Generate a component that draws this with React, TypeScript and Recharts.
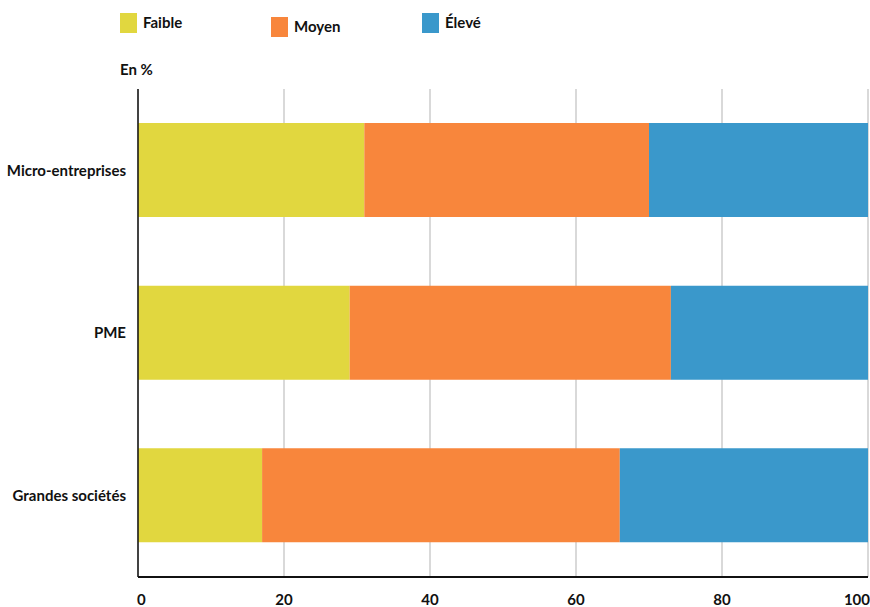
import React from "react";
import { BarChart, Bar, XAxis, YAxis, CartesianGrid } from "recharts";

const categories = ["Micro-entreprises", "PME", "Grandes sociétés"];
const faible = [31, 29, 17];
const moyen = [39, 44, 49];
const eleve = [30, 27, 34];
const xTicks = [0, 20, 40, 60, 80, 100];

const seriesNames = ["Faible", "Moyen", "Élevé"];
const colors = ["#e1d73f", "#f8863c", "#3a98cb"];

const data = categories.map((c, i) => ({
  name: c,
  Faible: faible[i],
  Moyen: moyen[i],
  "Élevé": eleve[i],
}));

const FONT = "Lato, 'Open Sans', sans-serif";

const XTick = (props: any) => {
  const { x, y, payload } = props;
  const v = payload.value;
  let anchor: "start" | "middle" | "end" = "middle";
  let dx = 0;
  if (v === 0) { anchor = "start"; dx = -1; }
  if (v === 100) { anchor = "end"; dx = 2; }
  return (
    <text x={x + dx} y={y} dy={26} textAnchor={anchor} fill="#111" fontSize={15} fontWeight={700} fontFamily={FONT}>
      {v}
    </text>
  );
};

const legendPos = [
  { x: 120, y: 13 },
  { x: 271, y: 17 },
  { x: 422, y: 13 },
];

export default function App() {
  return (
    <div style={{ position: "absolute", left: 0, top: 0, width: 870, height: 607, background: "#fff" }}>
      {seriesNames.map((n, i) => (
        <div key={n} style={{ position: "absolute", left: legendPos[i].x, top: legendPos[i].y, display: "flex", alignItems: "center", fontFamily: FONT, fontWeight: 700, fontSize: 15, color: "#111" }}>
          <div style={{ width: 17, height: 20, background: colors[i], marginRight: 6 }} />
          <span style={{ position: "relative", top: -1 }}>{n}</span>
        </div>
      ))}
      <div style={{ position: "absolute", left: 120, top: 60, fontFamily: FONT, fontWeight: 700, fontSize: 15, color: "#111" }}>En %</div>
      <BarChart
        width={870}
        height={607}
        data={data}
        layout="vertical"
        margin={{ top: 89, right: 2, bottom: 0, left: 0 }}
        barCategoryGap={0}
      >
        <CartesianGrid horizontal={false} stroke="#cccccc" strokeWidth={1.5} />
        <XAxis
          type="number"
          domain={[0, 100]}
          ticks={xTicks}
          height={30}
          axisLine={{ stroke: "#111", strokeWidth: 2 }}
          tickLine={false}
          tickSize={0}
          tick={<XTick />}
          interval={0}
        />
        <YAxis
          type="category"
          dataKey="name"
          width={138}
          axisLine={{ stroke: "#111", strokeWidth: 1.5 }}
          tickLine={false}
          tickSize={0}
          tickMargin={12}
          tick={{ fill: "#111", fontSize: 15, fontWeight: 700, fontFamily: FONT }}
        />
        {seriesNames.map((n, i) => (
          <Bar key={n} dataKey={n} stackId="a" fill={colors[i]} barSize={94} isAnimationActive={false} />
        ))}
      </BarChart>
    </div>
  );
}
